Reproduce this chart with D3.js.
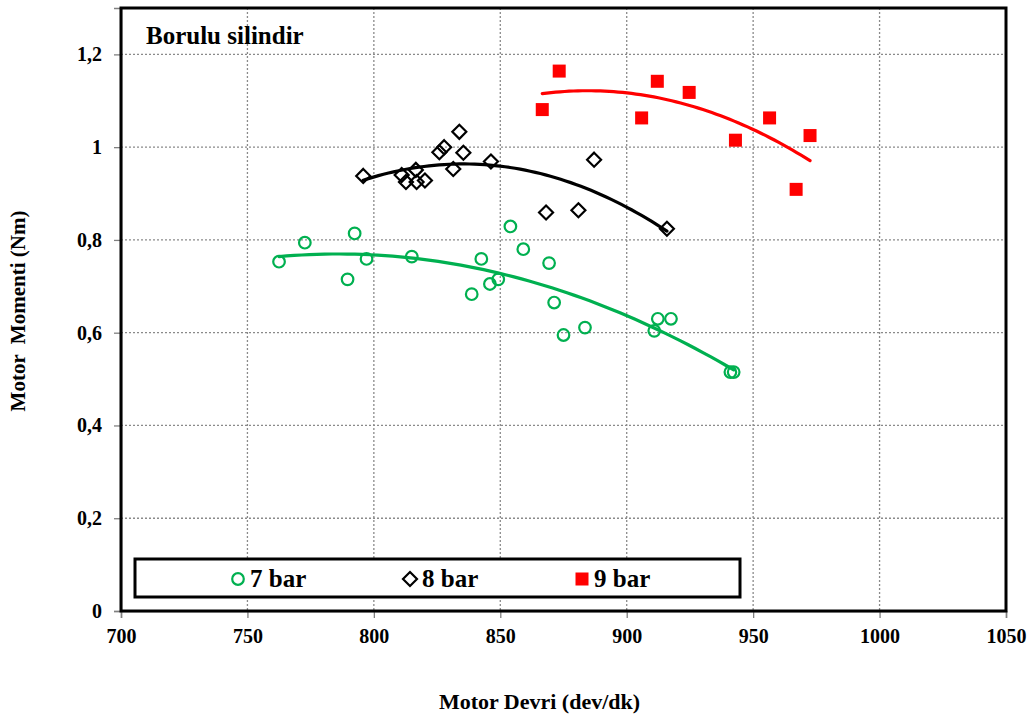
<!DOCTYPE html>
<html>
<head>
<meta charset="utf-8">
<script src="https://cdn.jsdelivr.net/npm/d3@7"></script>
<style>
  html, body { margin: 0; padding: 0; background: #fff; }
  svg text { font-family: "Liberation Serif", "Times New Roman", serif; font-weight: bold; }
</style>
</head>
<body>
<svg id="grafico" width="1035" height="717"></svg>
<script>
// Motor devri (dev/dk) y momento (Nm) por presion
const devri7 = [762.5, 772.7, 789.6, 792.4, 797.1, 815, 838.7, 842.5, 845.9, 849.2, 854, 859.1, 869.3, 871.3, 875, 883.5, 910.9, 912.3, 917.5, 941, 942.3];
const moment7 = [0.753, 0.794, 0.715, 0.814, 0.759, 0.764, 0.683, 0.759, 0.705, 0.715, 0.829, 0.78, 0.75, 0.665, 0.595, 0.611, 0.604, 0.63, 0.63, 0.515, 0.515];

const devri8 = [795.8, 811, 812.7, 816.6, 816.9, 820.2, 825.9, 827.8, 831.4, 833.8, 835.4, 846.3, 868.1, 880.9, 887.1, 915.9];
const moment8 = [0.938, 0.94, 0.925, 0.951, 0.925, 0.928, 0.989, 1.0, 0.953, 1.033, 0.988, 0.969, 0.859, 0.864, 0.973, 0.824];

const devri9 = [866.6, 873.3, 905.9, 912.1, 924.7, 943.0, 956.5, 967.0, 972.5];
const moment9 = [1.081, 1.164, 1.063, 1.142, 1.118, 1.015, 1.063, 0.909, 1.025];

const xTicks = [700, 750, 800, 850, 900, 950, 1000, 1050];
const yTicks = [0, 0.2, 0.4, 0.6, 0.8, 1, 1.2];
const seriesNames = ['7 bar', '8 bar', '9 bar'];

const series = [
  { name: seriesNames[0], xs: devri7, ys: moment7, color: '#00b050', marker: 'circle' },
  { name: seriesNames[1], xs: devri8, ys: moment8, color: '#000000', marker: 'diamond' },
  { name: seriesNames[2], xs: devri9, ys: moment9, color: '#ff0000', marker: 'square' }
];

// Ajuste polinomico de orden 2 (minimos cuadrados), como la linea de tendencia
function ajusteCuadratico(xs, ys) {
  const m = d3.mean(xs);
  const S = [0, 0, 0, 0, 0], T = [0, 0, 0];
  xs.forEach((x, i) => {
    const u = x - m;
    for (let k = 0; k < 5; k++) S[k] += Math.pow(u, k);
    for (let k = 0; k < 3; k++) T[k] += ys[i] * Math.pow(u, k);
  });
  const A = [[S[0], S[1], S[2], T[0]], [S[1], S[2], S[3], T[1]], [S[2], S[3], S[4], T[2]]];
  for (let c = 0; c < 3; c++) {
    for (let r = c + 1; r < 3; r++) {
      const f = A[r][c] / A[c][c];
      for (let k = c; k < 4; k++) A[r][k] -= f * A[c][k];
    }
  }
  const b = [0, 0, 0];
  for (let r = 2; r >= 0; r--) {
    let s = A[r][3];
    for (let k = r + 1; k < 3; k++) s -= A[r][k] * b[k];
    b[r] = s / A[r][r];
  }
  return x => b[0] + b[1] * (x - m) + b[2] * (x - m) * (x - m);
}

const svg = d3.select('#grafico');
const izq = 121, der = 1006, arriba = 8, abajo = 611;

const x = d3.scaleLinear().domain([700, 1050]).range([izq, der]);
const y = d3.scaleLinear().domain([0, 1.3]).range([abajo, arriba]);
const coma = d => String(+d.toFixed(1)).replace('.', ',');

// Rejilla punteada
const rejilla = svg.append('g').attr('stroke', '#8a8a8a').attr('stroke-width', 1.3).attr('stroke-dasharray', '2,2');
rejilla.selectAll('line.v').data(xTicks.slice(1, -1)).enter().append('line')
  .attr('x1', d => x(d)).attr('x2', d => x(d)).attr('y1', arriba).attr('y2', abajo);
rejilla.selectAll('line.h').data(yTicks.slice(1)).enter().append('line')
  .attr('x1', izq).attr('x2', der).attr('y1', d => y(d)).attr('y2', d => y(d));

// Ejes
const ejeY = svg.append('g').attr('transform', `translate(${izq},0)`)
  .call(d3.axisLeft(y).tickValues(yTicks).tickFormat(coma).tickSize(7).tickPadding(12));
const ejeX = svg.append('g').attr('transform', `translate(0,${abajo})`)
  .call(d3.axisBottom(x).tickValues(xTicks).tickFormat(d3.format('d')).tickSize(7).tickPadding(11));
[ejeY, ejeX].forEach(e => {
  e.select('.domain').attr('stroke', '#808080').attr('stroke-width', 1.5);
  e.selectAll('.tick line').attr('stroke', '#808080').attr('stroke-width', 1.3);
  e.selectAll('text').attr('fill', '#000').style('font-size', '20px').style('font-family', '"Liberation Serif", serif').style('font-weight', 'bold');
});

// Marco del grafico
svg.append('rect').attr('x', izq).attr('y', arriba).attr('width', der - izq).attr('height', abajo - arriba)
  .attr('fill', 'none').attr('stroke', '#000').attr('stroke-width', 3);

// Lineas de tendencia
const linea = d3.line().x(d => x(d[0])).y(d => y(d[1])).curve(d3.curveLinear);
series.forEach(s => {
  const f = ajusteCuadratico(s.xs, s.ys);
  const [a, b] = d3.extent(s.xs);
  const pts = d3.range(0, 61).map(i => { const xv = a + (b - a) * i / 60; return [xv, f(xv)]; });
  svg.append('path').datum(pts).attr('d', linea)
    .attr('fill', 'none').attr('stroke', s.color).attr('stroke-width', 3.2).attr('stroke-linecap', 'round');
});

// Marcadores
function dibujarMarcador(g, tipo, color) {
  if (tipo === 'circle') {
    g.append('circle').attr('r', 5.8).attr('fill', 'none').attr('stroke', color).attr('stroke-width', 2.2);
  } else if (tipo === 'diamond') {
    g.append('path').attr('d', 'M0,-7 L7,0 L0,7 L-7,0 Z').attr('fill', 'none').attr('stroke', color).attr('stroke-width', 2.2);
  } else {
    g.append('rect').attr('x', -6.5).attr('y', -6.5).attr('width', 13).attr('height', 13).attr('fill', color);
  }
}
series.forEach(s => {
  s.xs.forEach((xv, i) => {
    const g = svg.append('g').attr('transform', `translate(${x(xv)},${y(s.ys[i])})`);
    dibujarMarcador(g, s.marker, s.color);
  });
});

// Titulo interior
svg.append('text').attr('x', 146).attr('y', 44).style('font-size', '25px').text('Borulu silindir');

// Leyenda
svg.append('rect').attr('x', 135).attr('y', 559).attr('width', 605).attr('height', 38)
  .attr('fill', '#fff').attr('stroke', '#000').attr('stroke-width', 3);
const posLeyenda = [238, 410, 582];
series.forEach((s, i) => {
  const g = svg.append('g').attr('transform', `translate(${posLeyenda[i]},579)`);
  dibujarMarcador(g, s.marker, s.color);
  svg.append('text').attr('x', posLeyenda[i] + 12).attr('y', 587).style('font-size', '25px').text(s.name);
});

// Titulos de ejes
svg.append('text').attr('x', (izq + der) / 2 - 24).attr('y', 709).attr('text-anchor', 'middle')
  .style('font-size', '22px').text('Motor Devri (dev/dk)');
svg.append('text').attr('transform', 'translate(25,311) rotate(-90)').attr('text-anchor', 'middle')
  .style('font-size', '21px').style('white-space', 'pre').text('Motor  Momenti (Nm)');
</script>
</body>
</html>
